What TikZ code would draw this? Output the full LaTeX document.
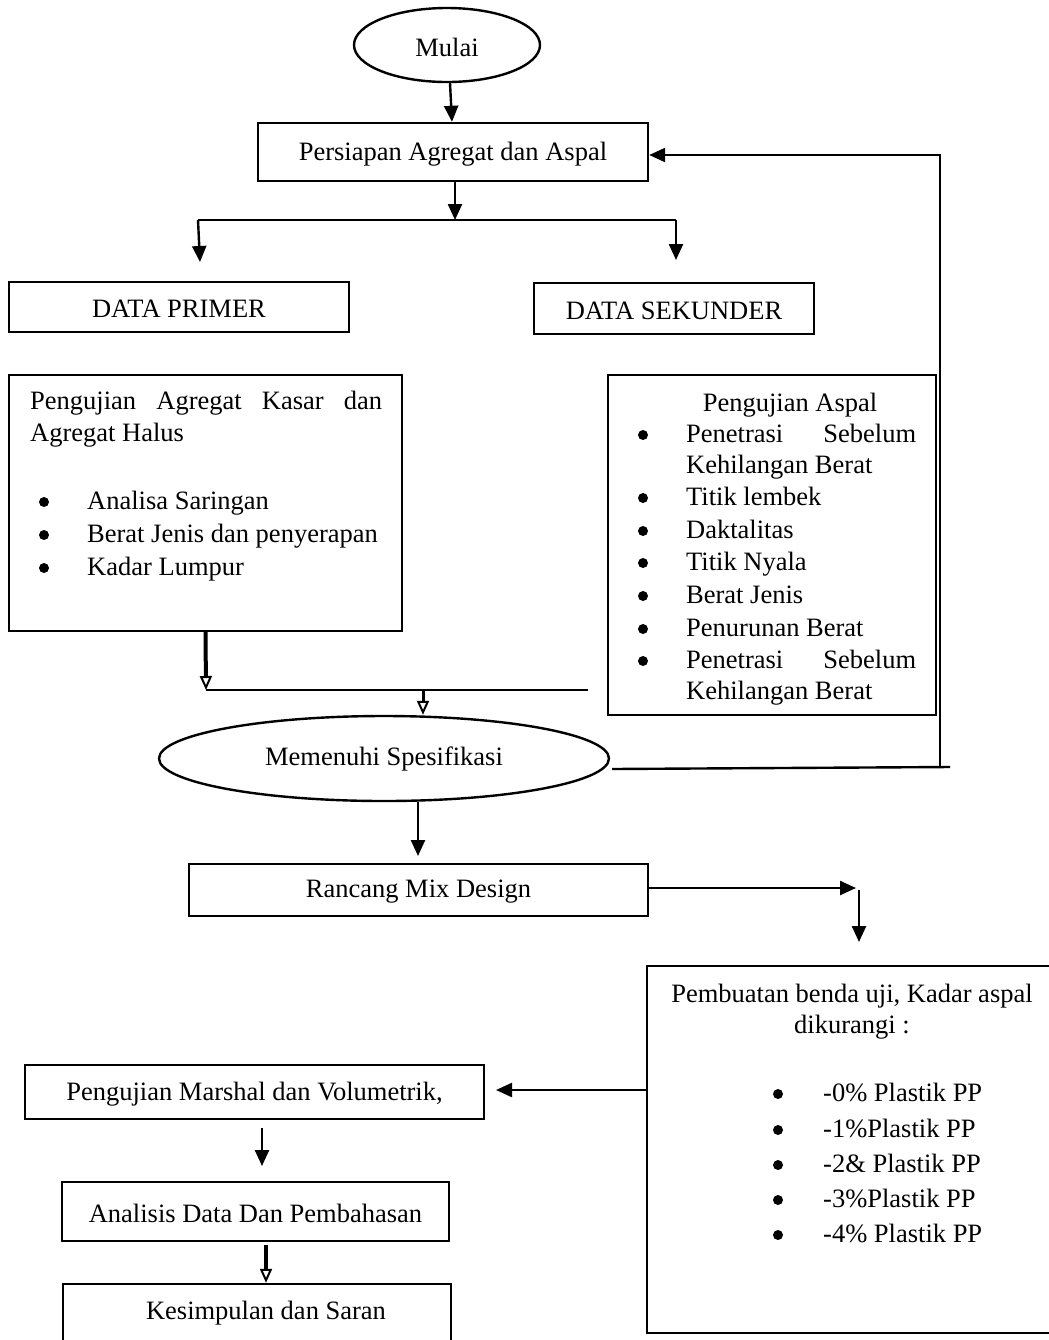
\documentclass[tikz,border=0pt]{standalone}
\usepackage{fontspec}
\setmainfont{Liberation Serif}
\usetikzlibrary{arrows.meta,shapes.geometric}

\newcommand{\turun}[1]{\raisebox{-1pt}[\height][\depth]{#1}}

\tikzset{
  box/.style={draw, rectangle, inner sep=0pt},
  oval/.style={draw, ellipse, inner sep=0pt},
  teks/.style={inner sep=0pt, anchor=mid west},
  titik/.style={circle, fill, inner sep=0pt, minimum size=5pt},
  arr/.style={-{Triangle[length=8pt,width=7pt]}},
  oarr/.style={line width=2pt, -{Triangle[open,length=7pt,width=6pt,line width=1pt]}}
}

\begin{document}
\begin{tikzpicture}[x=0.5pt, y=-0.5pt, line width=1.2pt,
    font=\fontsize{13.25}{16.35}\selectfont]
        \useasboundingbox (0,0) rectangle (1049,1340);
        \clip (0,0) rectangle (1049,1340);
        % atas
        \node[oval, minimum width=93pt, minimum height=37pt] (mulai) at (447,45) {\turun{Mulai}};
        \node[box, minimum width=195pt, minimum height=29pt] (siap) at (453,152) {\turun{Persiapan Agregat dan Aspal}};
        \coordinate (cabang) at (455,220);
        \coordinate (cabangL) at (198,220);
        \coordinate (cabangR) at (676,220);
        \coordinate (primerT) at (200,262);
        \coordinate (sekunderT) at (676,260);
        \draw [arr] ([xshift=1.5pt]mulai.south) -- ([xshift=-0.5pt]siap.north);
        \draw [arr] (siap.south -| cabang) -- (cabang);
        \draw (cabangL) -- (cabangR);
        \draw [arr] (cabangL) -- (primerT);
        \draw [arr] (cabangR) -- (sekunderT);
        \node[box, minimum width=170pt, minimum height=25pt] (primer) at (179,307) {\turun{DATA PRIMER}};
        \node[box, minimum width=140pt, minimum height=25.5pt] (sekunder) at (674,308.5) {\turun{DATA SEKUNDER}};
        % pengujian agregat
        \node[box, minimum width=196.5pt, minimum height=128pt] (ujiagr) at (205.5,503) {};
        \node[teks] (ujiagr1) at (29,405) {\makebox[176pt][s]{Pengujian Agregat Kasar dan}};
        \node[teks] (ujiagr2) at (29,437) {Agregat Halus};
        \foreach \y/\isi [count=\i] in {505/Analisa Saringan, 538/Berat Jenis dan penyerapan, 571/Kadar Lumpur} {
          \node[titik] (ujiagrb\i) at (44,\y-3) {};
          \node[teks] (ujiagrt\i) at (86,\y) {\isi};
        }
        % pengujian aspal
        \node[box, minimum width=164pt, minimum height=170pt] (ujiasp) at (772,545) {};
        \node[inner sep=0pt] (ujiasp0) at (790,405) {Pengujian Aspal};
        \foreach \y/\isi [count=\i] in {438/{\makebox[115pt][s]{Penetrasi Sebelum}}, 501/Titik lembek,
            534/Daktalitas, 566/Titik Nyala, 599/Berat Jenis, 632/Penurunan Berat,
            664/{\makebox[115pt][s]{Penetrasi Sebelum}}} {
          \node[titik] (ujiaspb\i) at (643,\y-3) {};
          \node[teks] (ujiaspt\i) at (685,\y) {\isi};
        }
        \node[teks] (ujiaspk1) at (685,469) {Kehilangan Berat};
        \node[teks] (ujiaspk2) at (685,695) {Kehilangan Berat};
        % gabung ke spesifikasi
        \coordinate (gabungL) at (206,690);
        \coordinate (gabungM) at (423,690);
        \coordinate (gabungR) at (588,690);
        \node[oval, minimum width=225pt, minimum height=42.5pt] (spek) at (384,758.5) {};
        \node[inner sep=0pt] (spekteks) at (384,759) {Memenuhi Spesifikasi};
        \draw [oarr] (ujiagr.south) -- (gabungL);
        \draw (gabungL) -- (gabungR);
        \draw [oarr, line width=1.5pt] (gabungM) -- (gabungM |- spek.north);
        % balik ke persiapan
        \coordinate (balikA) at (612,769);
        \coordinate (balikB) at (950,767);
        \coordinate (balikC) at (940,767);
        \coordinate (balikD) at (940,155);
        \draw (balikA) -- (balikB);
        \draw [arr] (balikC) -- (balikD) -- (siap.east |- balikD);
        % mix design
        \node[box, minimum width=229.5pt, minimum height=26pt] (rancang) at (418.5,890) {\turun{Rancang Mix Design}};
        \coordinate (rancangT) at (418,856);
        \coordinate (belok) at (856,888);
        \coordinate (belokA) at (859,890);
        \coordinate (belokB) at (859,942);
        \draw [arr] (rancangT |- spek.south) -- (rancangT);
        \draw [arr] (rancang.east |- belok) -- (belok);
        \draw [arr] (belokA) -- (belokB);
        % benda uji
        \node[box, minimum width=205.5pt, minimum height=183.5pt] (buat) at (852.5,1149.5) {};
        \node[inner sep=0pt] (buat1) at (852,996) {Pembuatan benda uji, Kadar aspal};
        \node[inner sep=0pt] (buat2) at (852,1027) {dikurangi :};
        \foreach \y/\isi [count=\i] in {1097/-0\% Plastik PP, 1133/-1\%Plastik PP, 1168/-2\& Plastik PP,
            1203/-3\%Plastik PP, 1238/-4\% Plastik PP} {
          \node[titik] (buatb\i) at (778,\y-3) {};
          \node[teks] (buatt\i) at (822,\y) {\isi};
        }
        % bawah
        \node[box, minimum width=229.5pt, minimum height=27pt] (marshal) at (254.5,1092) {\turun{Pengujian Marshal dan Volumetrik,}};
        \node[box, minimum width=193.5pt, minimum height=29.5pt] (analisis) at (255.5,1211.5) {\turun{Analisis Data Dan Pembahasan}};
        \node[box, minimum width=194pt, minimum height=33pt] (simpul) at (257,1317) {};
        \node[inner sep=0pt] (simpulteks) at (266,1313) {Kesimpulan dan Saran};
        \coordinate (buatK) at (647,1090);
        \coordinate (marshalK) at (496,1090);
        \coordinate (marshalB) at (262,1128);
        \coordinate (analisisT) at (262,1166);
        \coordinate (analisisB) at (266,1245);
        \draw [arr] (buatK) -- (marshalK);
        \draw [arr] (marshalB) -- (analisisT);
        \draw [oarr] (analisisB) -- (analisisB |- simpul.north);
\end{tikzpicture}
\end{document}
